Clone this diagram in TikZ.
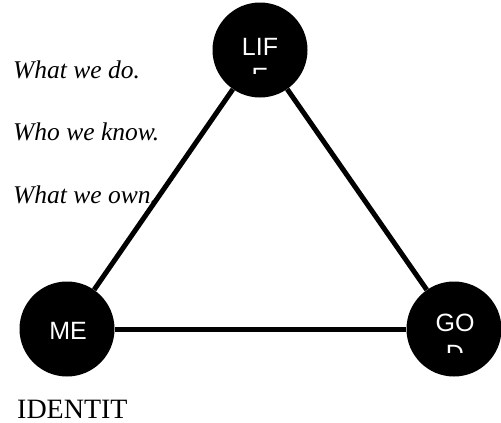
\documentclass[tikz,border=0pt]{standalone}
\usepackage{fontspec}
\setmainfont{Liberation Serif}
\newfontfamily\hubfont{Liberation Sans}

\begin{document}
\begin{tikzpicture}[x=1pt, y=-1pt,
    hub/.style={circle, fill=black, minimum size=95pt, inner sep=0pt},
    hubtext/.style={text=white, anchor=base, inner sep=0pt, font=\hubfont\fontsize{25}{25}\selectfont},
    side/.style={anchor=base west, inner sep=0pt, font=\itshape\fontsize{25.5}{25.5}\selectfont},
    link/.style={line width=5pt}]
    \useasboundingbox (0,0) rectangle (501,423);

    % 1. The three circles
    \node[hub] (life) at (260,50) {};
    \node[hub] (me) at (67,329) {};
    \node[hub] (god) at (454,329) {};

    % --- Side notes ---
    \node[side] (do) at (13,78) {What we do.};
    \node[side] (know) at (13,140) {Who we know.};
    \node[side] (own) at (13,203) {What we own.};

    % --- Triangle ---
    \draw[link] (life) -- (me);
    \draw[link] (life) -- (god);
    \draw[link] (me) -- (god);

    % --- Circle labels (second lines cut off) ---
    \node[hubtext] (lifea) at (260,55) {LIF};
    \begin{scope}
        \clip (230,60) rectangle (290,73);
        \node[hubtext] (lifeb) at (260,85) {E};
    \end{scope}

    \node[hubtext] (mea) at (68,339) {ME};

    \node[hubtext] (goda) at (455,331) {GO};
    \begin{scope}
        \clip (425,336) rectangle (485,352);
        \node[hubtext] (godb) at (455,362) {D};
    \end{scope}

    \node[anchor=base west, inner sep=0pt, font=\fontsize{28}{28}\selectfont] (ident) at (17,418) {IDENTIT};
\end{tikzpicture}
\end{document}
